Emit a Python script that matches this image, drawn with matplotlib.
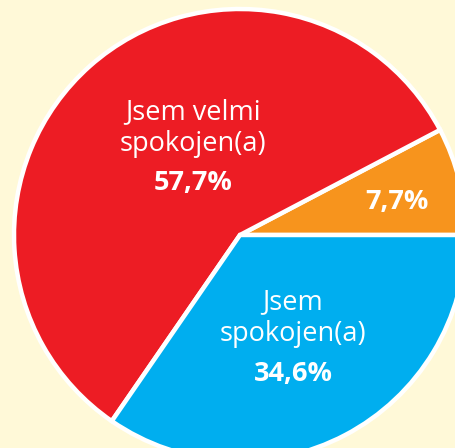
import matplotlib.pyplot as plt

labels = ["7,7%", "Jsem velmi\nspokojen(a)", "Jsem\nspokojen(a)"]
values = [7.7, 57.7, 34.6]
colors = ["#F7941D", "#ED1C24", "#00AEEF"]
bg = "#FFF9D8"

plt.rcParams['font.family'] = ['Open Sans', 'DejaVu Sans']

fig = plt.figure(figsize=(4.55, 4.48), dpi=100, facecolor=bg)
# pie centre at (240, 235) px from top-left, radius ~226 px
cx, cy, r = 240, 235, 226
ax = fig.add_axes([(cx - r) / 455, (448 - cy - r) / 448, 2 * r / 455, 2 * r / 448])
ax.set_facecolor(bg)

ax.pie(values, colors=colors, startangle=0, counterclock=True, radius=1,
       wedgeprops=dict(edgecolor="white", linewidth=3.2))
ax.set_xlim(-1, 1)
ax.set_ylim(-1, 1)
ax.set_aspect("equal")
ax.axis("off")


def px(x, y):
    return (x - cx) / r, (cy - y) / r


fs = 19.5

# red slice
x, y = px(193, 128)
ax.text(x, y, labels[1], color="white", fontsize=fs, ha="center", va="center",
        linespacing=1.15)
x, y = px(193, 183)
ax.text(x, y, f"{values[1]:.1f}%".replace(".", ","), color="white", fontsize=fs,
        fontweight="bold", ha="center", va="center")

# orange slice
x, y = px(397, 202)
ax.text(x, y, labels[0], color="white", fontsize=fs, fontweight="bold",
        ha="center", va="center")

# blue slice
x, y = px(293, 318)
ax.text(x, y, labels[2], color="white", fontsize=fs, ha="center", va="center",
        linespacing=1.15)
x, y = px(293, 374)
ax.text(x, y, f"{values[2]:.1f}%".replace(".", ","), color="white", fontsize=fs,
        fontweight="bold", ha="center", va="center")

fig.savefig("out.png", dpi=100, facecolor=bg)
